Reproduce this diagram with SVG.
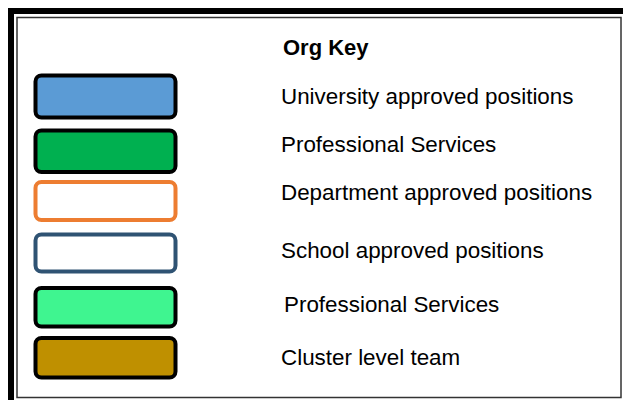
<svg xmlns="http://www.w3.org/2000/svg" width="623" height="400" viewBox="0 0 623 400">
<style>
.key{stroke-width:4}
.lbl{font-family:"Liberation Sans",Arial,sans-serif;font-size:22.4px;fill:#000}
.ttl{font-weight:bold;font-size:22px}
</style>
<rect width="623" height="400" fill="#fff"/>
<g id="frame" fill="none">
<rect x="11" y="11" width="700" height="500" stroke="#000" stroke-width="6"/>
<rect x="17" y="17.5" width="604" height="380" stroke="#333" stroke-width="1.5"/>
</g>
<g id="title"><text class="lbl ttl" x="283" y="55">Org Key</text></g>
<g id="key-university">
<rect class="key" x="35.5" y="75.5" width="140" height="42" rx="6" fill="#5B9BD5" stroke="#000"/>
<text class="lbl" x="281" y="104">University approved positions</text>
</g>
<g id="key-professional-1">
<rect class="key" x="35.5" y="130.5" width="140" height="41.5" rx="6" fill="#00B050" stroke="#000"/>
<text class="lbl" x="281" y="152">Professional Services</text>
</g>
<g id="key-department">
<rect class="key" x="35.5" y="182" width="140" height="38" rx="6" fill="#fff" stroke="#ED7D31" stroke-width="3.5"/>
<text class="lbl" x="281" y="200">Department approved positions</text>
</g>
<g id="key-school">
<rect class="key" x="35.5" y="234.5" width="140" height="37" rx="6" fill="#fff" stroke="#2F5373" stroke-width="3.5"/>
<text class="lbl" x="281" y="258">School approved positions</text>
</g>
<g id="key-professional-2">
<rect class="key" x="35.5" y="288" width="140" height="38.5" rx="6" fill="#3FF590" stroke="#000"/>
<text class="lbl" x="284" y="312">Professional Services</text>
</g>
<g id="key-cluster">
<rect class="key" x="35.5" y="338" width="140" height="39.5" rx="6" fill="#BF9000" stroke="#000"/>
<text class="lbl" x="281" y="365">Cluster level team</text>
</g>
</svg>
